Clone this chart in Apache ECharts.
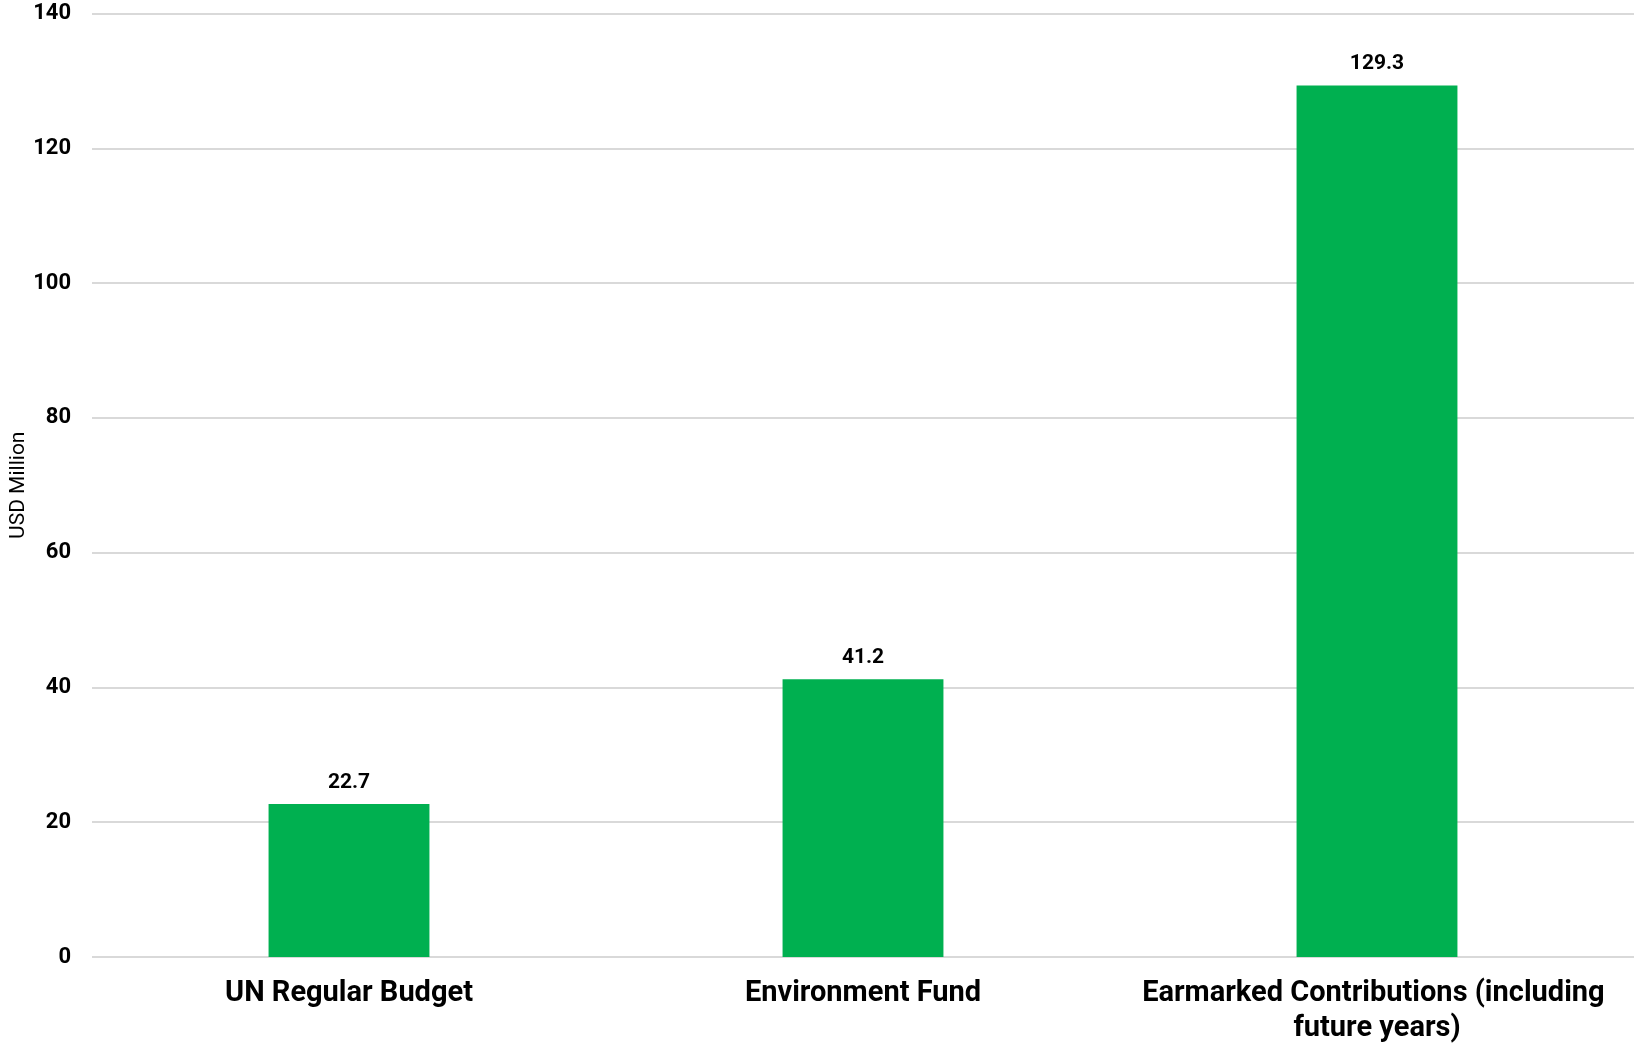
<!DOCTYPE html>
<html>
<head>
<meta charset="utf-8">
<script src="https://cdn.jsdelivr.net/npm/echarts@6/dist/echarts.min.js"></script>
<style>
html,body{margin:0;padding:0;background:#fff;}
#chart{width:1642px;height:1051px;}
</style>
</head>
<body>
<div id="chart"></div>
<script>
var categories = ['UN Regular Budget', 'Environment Fund', 'Earmarked Contributions (including future years)'];
var values = [22.7, 41.2, 129.3];
var yAxisName = 'USD Million';

var chart = echarts.init(document.getElementById('chart'), null, {renderer: 'canvas'});
chart.setOption({
  animation: false,
  backgroundColor: '#ffffff',
  grid: {left: 92, right: 8, top: 13.5, bottom: 94, containLabel: false, outerBoundsMode: 'none'},
  xAxis: {
    type: 'category',
    data: categories,
    axisLine: {show: false},
    axisTick: {show: false},
    axisLabel: {
      fontFamily: 'Roboto',
      fontWeight: 'bold',
      fontSize: 29,
      color: '#000',
      margin: 19,
      width: 495,
      overflow: 'break',
      lineHeight: 35,
      interval: 0
    }
  },
  yAxis: {
    type: 'value',
    min: 0,
    max: 140,
    interval: 20,
    name: yAxisName,
    nameLocation: 'middle',
    nameGap: 63,
    nameMoveOverlap: false,
    nameRotate: 90,
    nameTextStyle: {fontFamily: 'Roboto', fontSize: 21, color: '#000'},
    axisLine: {show: false},
    axisTick: {show: false},
    axisLabel: {
      fontFamily: 'Roboto',
      fontWeight: 'bold',
      fontSize: 22,
      color: '#000',
      margin: 21
    },
    splitLine: {lineStyle: {color: '#d9d9d9', width: 2}}
  },
  series: [{
    type: 'bar',
    data: values,
    barWidth: '31.3%',
    itemStyle: {color: '#00B050'},
    label: {
      show: true,
      position: 'top',
      distance: 11,
      fontFamily: 'Roboto',
      fontWeight: 'bold',
      fontSize: 21,
      color: '#000',
      formatter: function(p){ return p.value.toFixed(1); }
    }
  }]
});
</script>
</body>
</html>
